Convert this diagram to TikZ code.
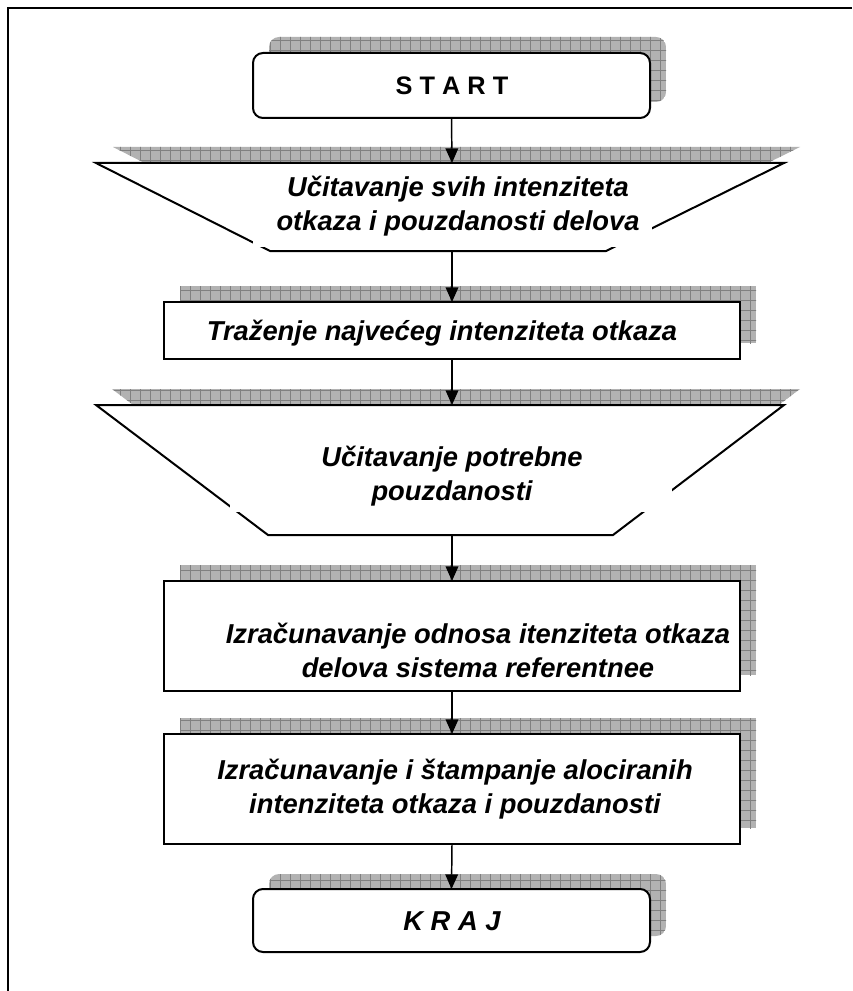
\documentclass[tikz,border=0pt]{standalone}
\usepackage{fontspec}
\setmainfont{Liberation Sans}
\usetikzlibrary{arrows.meta}
\newcommand\pshadow[1]{\begin{scope}\clip #1;\fill[shadowfill] #1;\draw[gridline,step=7.5pt] (0,0) grid (852,991);\end{scope}}
\begin{document}
\begin{tikzpicture}[x=0.75pt,y=-0.75pt,
  shapeline/.style={draw=black,line width=1.5pt,fill=white},
  shadowfill/.style={fill=black!30},
  gridline/.style={draw=black!50,line width=0.5pt},
  flowarrow/.style={draw=black,line width=1.1pt,-{Triangle[width=9.5pt,length=11pt]}},
  boxnode/.style={shapeline,rectangle,inner sep=0pt,outer sep=0pt},
  termnode/.style={boxnode,rounded corners=7.5pt},
  lbl/.style={font=\fontsize{20.5pt}{25.5pt}\selectfont\bfseries\itshape,align=center,inner sep=0pt},
  mask/.style={fill=white}]
\useasboundingbox (0,0) rectangle (852,991);
% frame
\draw[line width=1.5pt] (8,991) -- (8,8) -- (852,8);
% shadows
\pshadow{[rounded corners=7.5pt] (269,37) rectangle (666,102)}
\pshadow{(113,147) -- (800,147) -- (622,235) -- (286,235) -- cycle}
\pshadow{(180,286) rectangle (756,343)}
\pshadow{(112,389) -- (800,389) -- (629,519) -- (284,519) -- cycle}
\pshadow{(180,565) rectangle (756,675)}
\pshadow{(180,718) rectangle (756,828)}
\pshadow{[rounded corners=7.5pt] (269,874) rectangle (666,936)}
% terminals and process boxes
\node[termnode,minimum width=297.75pt,minimum height=48.75pt] (start) at (451.5,85.5) {};
\node[boxnode,minimum width=432pt,minimum height=42.75pt] (trazenje) at (452,330.5) {};
\node[boxnode,minimum width=432pt,minimum height=82.5pt] (odnos) at (452,636) {};
\node[boxnode,minimum width=432pt,minimum height=82.5pt] (stampa) at (452,789) {};
\node[termnode,minimum width=297.75pt,minimum height=47.25pt] (kraj) at (451.5,920.5) {};
% manual input shapes
\draw[shapeline] (96,163) -- (784,163) -- (606,251) -- (270,251) -- cycle;
\fill[mask] (253,168) rectangle (652,247);
\draw[shapeline] (96,405) -- (784,405) -- (613,535) -- (268,535) -- cycle;
\fill[mask] (230,420) rectangle (672,512);
\coordinate (t1top) at (452,163);
\coordinate (t1bot) at (452,251);
\coordinate (t2top) at (452,405);
\coordinate (t2bot) at (452,535);
% texts
\node[inner sep=0pt,font=\fontsize{19pt}{23pt}\selectfont\bfseries] (tstart) at (452,86) {S T A R T};
\node[lbl] (tucit1) at (458,206) {Učitavanje svih intenziteta\\otkaza i pouzdanosti delova};
\node[lbl] (ttraz) at (442,333) {Traženje najvećeg intenziteta otkaza};
\node[lbl] (tucit2) at (452,476) {Učitavanje potrebne\\pouzdanosti};
\node[lbl] (todnos) at (478,650) {Izračunavanje odnosa itenziteta otkaza\\delova sistema referentnee};
\node[lbl] (tstampa) at (455,789) {Izračunavanje i štampanje alociranih\\intenziteta otkaza i pouzdanosti};
\node[lbl] (tkraj) at (452,921) {K R A J};
% connectors
\draw[flowarrow] (start.south) -- (t1top);
\draw[flowarrow] (t1bot) -- (trazenje.north);
\draw[flowarrow] (trazenje.south) -- (t2top);
\draw[flowarrow] (t2bot) -- (odnos.north);
\draw[flowarrow] (odnos.south) -- (stampa.north);
\draw[flowarrow] (stampa.south) -- (kraj.north);
\end{tikzpicture}
\end{document}
